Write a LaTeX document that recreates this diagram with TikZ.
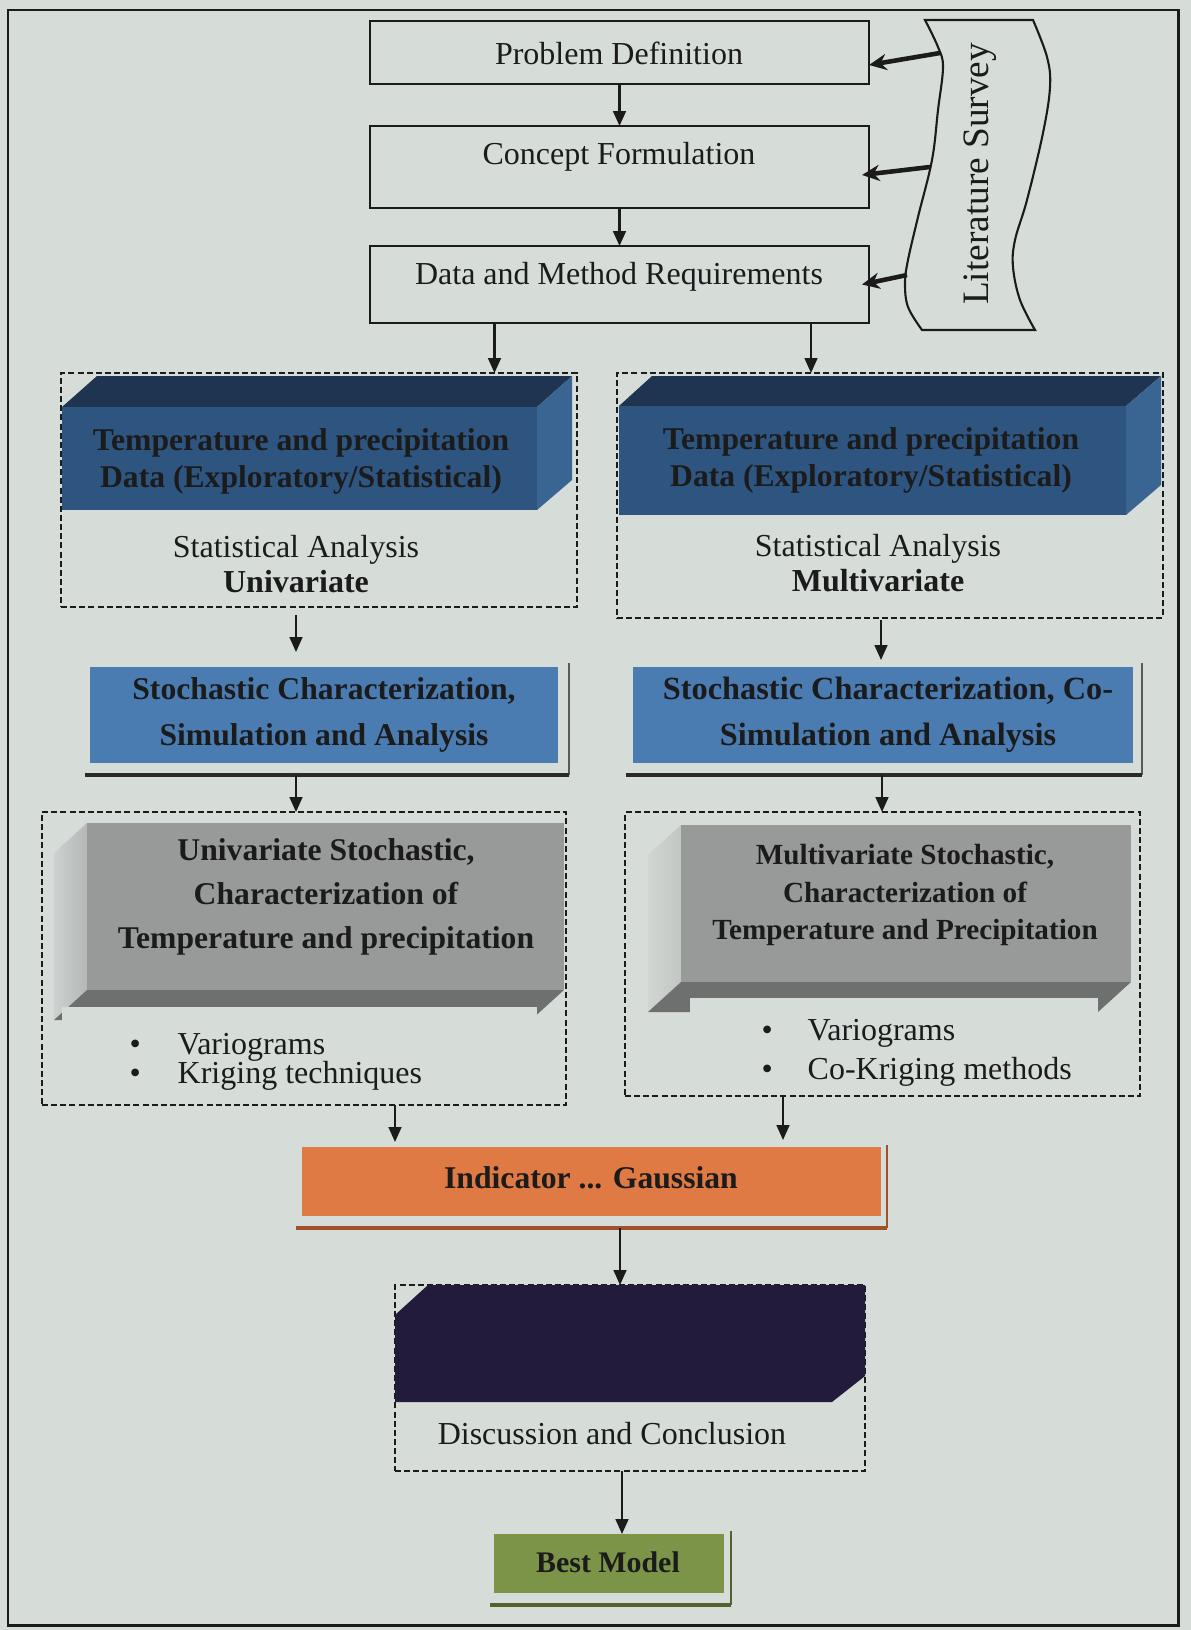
\documentclass[tikz,border=0pt]{standalone}
\usepackage{fontspec}
\setmainfont{Liberation Serif}
\usetikzlibrary{arrows.meta,fit}
\definecolor{page}{HTML}{D6DDD8}
\definecolor{ink}{HTML}{1B1B1B}
\definecolor{bfront}{HTML}{2E5480}
\definecolor{btop}{HTML}{1E3450}
\definecolor{bside}{HTML}{3A6491}
\definecolor{sblue}{HTML}{4A7CB2}
\definecolor{gfront}{HTML}{989A99}
\definecolor{gbottom}{HTML}{6E7070}
\definecolor{gleftA}{HTML}{CDD1CF}
\definecolor{gleftB}{HTML}{B3B7B5}
\definecolor{orangebox}{HTML}{DF7A45}
\definecolor{orangeshadow}{HTML}{A0512C}
\definecolor{purplebox}{HTML}{231B3B}
\definecolor{olivebox}{HTML}{7C9448}
\definecolor{oliveshadow}{HTML}{52622E}
\definecolor{shadowdark}{HTML}{2A2A2A}
\definecolor{shadowgray}{HTML}{5A5A5A}
\begin{document}
\begin{tikzpicture}[x=0.01cm,y=-0.01cm,
  every node/.style={text=ink},
  fitbox/.style={inner sep=0pt, outer sep=0pt},
  plainbox/.style={fitbox, draw=ink, line width=0.75pt},
  dashbox/.style={fitbox, draw=ink, line width=0.6pt, dash pattern=on 1.7pt off 0.9pt},
  txt/.style={font={\fontsize{9.1}{11}\selectfont}, align=center, inner sep=0pt},
  btxt/.style={txt, font={\fontsize{9}{10.5}\selectfont\bfseries}},
  arr/.style={draw=ink, line width=0.6pt, -{Triangle[length=4.2pt,width=3.6pt]}},
  bigarr/.style={draw=ink, line width=1.3pt, -{Stealth[length=5pt,width=4.6pt]}},
]
\useasboundingbox (0,0) rectangle (1191,1630);
\fill[page] (0,0) rectangle (1191,1630);
% outer frame
\draw[ink, line width=0.85pt] (8,10) rectangle (1178,1625);

% Literature survey (wavy banner)
\draw[ink, line width=0.6pt, fill=page]
  plot[smooth, tension=0.6] coordinates {(925,20) (938,47) (943,67) (938,110) (932,160) (918,217) (908,260) (905,283) (908,307) (922,330)}
  -- plot[smooth, tension=0.6] coordinates {(1035,330) (1020,300) (1013,267) (1015,240) (1027,200) (1043,133) (1050,87) (1047,57) (1033,20)}
  -- cycle;
\node[rotate=90, inner sep=0pt, font={\fontsize{10.6}{12}\selectfont}] (litt) at (980,174) {Literature Survey};
\coordinate (l1) at (940,53);
\coordinate (l2) at (930,167);
\coordinate (l3) at (907,275);

% top boxes
\node[plainbox, fit={(370,21)(869,84)}] (pd) {};
\node[txt] (pdt) at (619,53) {Problem Definition};
\node[plainbox, fit={(370,126)(869,208)}] (cf) {};
\node[txt] (cft) at (619,157) {Concept Formulation};
\node[plainbox, fit={(370,246)(869,323)}] (dm) {};
\node[txt] (dmt) at (619,277) {Data and Method Requirements};

% dashed containers
\node[dashbox, fit={(61,373)(577,607)}] (lb) {};
\node[dashbox, fit={(617,373)(1163,618)}] (rb) {};
\node[dashbox, fit={(42,812)(566,1105)}] (lg) {};
\node[dashbox, fit={(625,812)(1140,1096)}] (rg) {};
\node[dashbox, fit={(395,1285)(865,1471)}] (dc) {};

% blue cubes (left)
\fill[btop] (62,407) -- (97,376) -- (572,376) -- (537,407) -- cycle;
\fill[bside] (537,407) -- (572,376) -- (572,480) -- (537,510) -- cycle;
\fill[bfront] (62,407) rectangle (537,510);
\node[btxt] (lbt) at (301,461) {Temperature and precipitation\\Data (Exploratory/Statistical)};
\node[txt, font={\fontsize{9.1}{10}\selectfont}] (lbs) at (296,564) {Statistical Analysis\\\textbf{Univariate}};
% blue cubes (right)
\fill[btop] (619,406) -- (652,376) -- (1161,376) -- (1126,406) -- cycle;
\fill[bside] (1126,406) -- (1161,376) -- (1161,485) -- (1126,515) -- cycle;
\fill[bfront] (619,406) rectangle (1126,515);
\node[btxt] (rbt) at (871,460) {Temperature and precipitation\\Data (Exploratory/Statistical)};
\node[txt, font={\fontsize{9.1}{10}\selectfont}] (rbs) at (878,563) {Statistical Analysis\\\textbf{Multivariate}};

% stochastic boxes
\draw[shadowgray, line width=0.5pt] (569,663) -- (569,775);
\draw[shadowdark, line width=0.9pt] (85,775) -- (569,775);
\node[fitbox, fill=sblue, fit={(90,667)(558,763)}] (lst) {};
\node[btxt, font={\fontsize{9}{13}\selectfont\bfseries}] (lstt) at (324,715) {Stochastic Characterization,\\Simulation and Analysis};
\draw[shadowgray, line width=0.5pt] (1142,663) -- (1142,775);
\draw[shadowdark, line width=0.9pt] (626,775) -- (1142,775);
\node[fitbox, fill=sblue, fit={(633,667)(1133,763)}] (rst) {};
\node[btxt, font={\fontsize{9.2}{13}\selectfont\bfseries}] (rstt) at (888,715) {Stochastic Characterization, Co-\\Simulation and Analysis};

% gray cubes (left)
\shade[left color=gleftA, right color=gleftB] (87,823) -- (54,853) -- (54,1020) -- (87,990) -- cycle;
\fill[gbottom] (87,990) -- (564,990) -- (531,1020) -- (54,1020) -- cycle;
\fill[gfront] (87,823) rectangle (564,990);
\fill[page] (62,1007) rectangle (537,1100);
\node[btxt, font={\fontsize{9}{12.5}\selectfont\bfseries}] (lgt) at (326,897) {Univariate Stochastic,\\Characterization of\\Temperature and precipitation};
\node[txt, anchor=west] (lg1) at (129,1047) {\makebox[4.8mm][l]{\textbullet}Variograms};
\node[txt, anchor=west] (lg2) at (129,1076) {\makebox[4.8mm][l]{\textbullet}Kriging techniques};
% gray cubes (right)
\shade[left color=gleftA!60!page, right color=gleftB!60!page] (681,825) -- (648,855) -- (648,1012) -- (681,982) -- cycle;
\fill[gbottom] (681,982) -- (1131,982) -- (1098,1012) -- (648,1012) -- cycle;
\fill[gfront] (681,825) rectangle (1131,982);
\fill[page] (690,998) rectangle (1098,1090);
\node[btxt, font={\fontsize{8.3}{10.7}\selectfont\bfseries}] (rgt) at (905,895) {Multivariate Stochastic,\\Characterization of\\Temperature and Precipitation};
\node[txt, anchor=west] (rg1) at (761,1033) {\makebox[4.6mm][l]{\textbullet}Variograms};
\node[txt, anchor=west] (rg2) at (761,1072) {\makebox[4.6mm][l]{\textbullet}Co-Kriging methods};

% indicator box
\draw[orangeshadow, line width=0.5pt] (887,1145) -- (887,1228);
\draw[orangeshadow, line width=0.9pt] (296,1228) -- (887,1228);
\node[fitbox, fill=orangebox, fit={(302,1147)(881,1216)}] (ind) {};
\node[btxt] (indt) at (591,1178) {Indicator ... Gaussian};

% dark discussion box
\fill[purplebox] (395,1315) -- (428,1285) -- (865,1285) -- (865,1376) -- (832,1402) -- (395,1402) -- cycle;
\node[txt] (dct) at (612,1434) {Discussion and Conclusion};

% best model
\draw[oliveshadow, line width=0.5pt] (731,1531) -- (731,1605);
\draw[oliveshadow, line width=0.9pt] (490,1605) -- (731,1605);
\node[fitbox, fill=olivebox, fit={(494,1534)(724,1593)}] (bm) {};
\node[btxt, font={\fontsize{8.5}{10}\selectfont\bfseries}] (bmt) at (608,1562) {Best Model};

% connectors
\draw[arr] (pd) -- (cf);
\draw[arr] (cf) -- (dm);
\path (dm.south) ++(-125,0) coordinate (a3);
\draw[arr] (a3) -- (a3 |- lb.north);
\path (dm.south) ++(191.5,0) coordinate (a4);
\draw[arr] (a4) -- (a4 |- rb.north);
\path (lb.south) ++(-23,0) coordinate (a5);
\draw[arr, shorten <=0.8mm, shorten >=1.5mm] (a5) -- (a5 |- lst.north);
\path (rb.south) ++(-9,0) coordinate (a6);
\draw[arr, shorten <=0.2mm, shorten >=0.7mm] (a6) -- (a6 |- rst.north);
\path (lst.south) ++(-28,12) coordinate (a7);
\draw[arr] (a7) -- (a7 |- lg.north);
\path (rst.south) ++(-1,12) coordinate (a8);
\draw[arr] (a8) -- (a8 |- rg.north);
\path (lg.south) ++(91,0) coordinate (a9);
\draw[arr, shorten >=0.5mm] (a9) -- (a9 |- ind.north);
\path (rg.south) ++(-99.5,0) coordinate (a10);
\draw[arr, shorten >=0.7mm] (a10) -- (a10 |- ind.north);
\path (ind.south) ++(28.5,12) coordinate (a11);
\draw[arr] (a11) -- (a11 |- dc.north);
\path (dc.south) ++(-8,0) coordinate (a12);
\draw[arr] (a12) -- (a12 |- bm.north);

\draw[bigarr] (l1) -- ([yshift=-1.25mm]pd.east);
\draw[bigarr] (l2) -- ([xshift=-0.7mm,yshift=-0.8mm]cf.east);
\draw[bigarr] (l3) -- ([xshift=-0.7mm]dm.east);
\end{tikzpicture}
\end{document}
